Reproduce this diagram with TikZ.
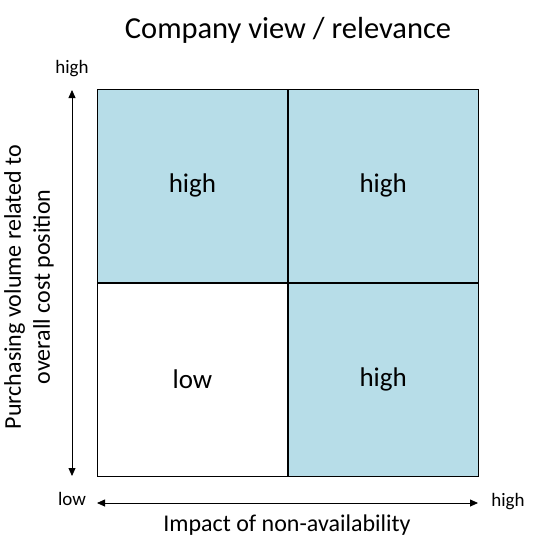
\documentclass[tikz,border=0pt]{standalone}
\usepackage{fontspec}
\setmainfont{Carlito}
\usetikzlibrary{arrows.meta}
\definecolor{cellblue}{RGB}{183,221,232}
\tikzset{>={Triangle[length=8pt,width=7pt]},
  cell/.style={draw, thick, minimum width=190pt, minimum height=193pt, inner sep=0pt,
    font=\fontsize{27}{32}\selectfont},
  ticklabel/.style={font=\fontsize{19}{22}\selectfont, inner sep=0pt},
  axislabel/.style={font=\fontsize{24}{29}\selectfont, inner sep=0pt, align=center}}
\begin{document}
\begin{tikzpicture}[x=1pt, y=-1pt]
     \useasboundingbox (0,0) rectangle (534,539);
     \node (title) at (288,30) {\fontsize{30.5}{35}\selectfont Company view / relevance};
     \node[cell, fill=cellblue, anchor=north west] (tl) at (97,89) {high};
     \node[cell, fill=cellblue, anchor=north west] (tr) at (tl.north east) {high};
     \node[cell, anchor=north west] (bl) at (tl.south west) {low};
     \node[cell, fill=cellblue, anchor=north west] (br) at (bl.north east) {high};
     \node[ticklabel] (yhigh) at (72,69) {high};
     \node[ticklabel] (ylow) at (72,499) {low};
     \node[ticklabel] (xhigh) at (508,502) {high};
     \coordinate (ytop) at (72,90);
     \coordinate (ybot) at (72,476);
     \coordinate (xleft) at (97,503);
     \coordinate (xright) at (478,503);
     \draw[<->, thick] (ytop) -- (ybot);
     \draw[<->, thick] (xleft) -- (xright);
     \node[axislabel] (xlabel) at (287,525) {Impact of non-availability};
     \node[axislabel, rotate=90] (ylabel) at (29,287) {Purchasing volume related to\\overall cost position};
\end{tikzpicture}
\end{document}
